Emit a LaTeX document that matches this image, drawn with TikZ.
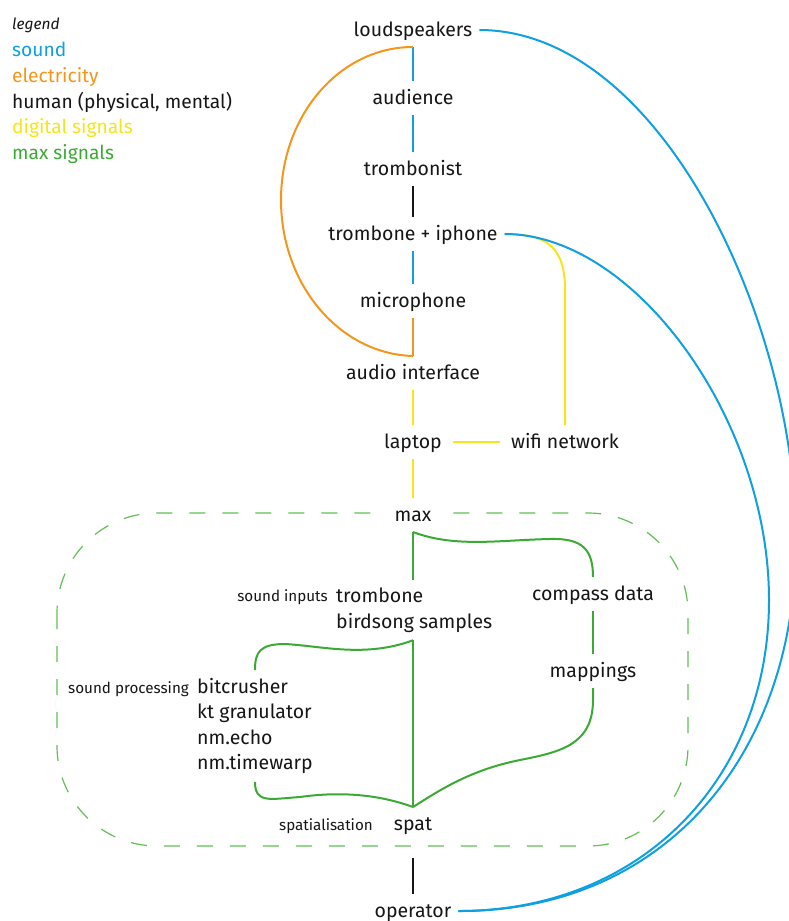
\documentclass[tikz,border=0pt]{standalone}
\usepackage{fontspec}
\setmainfont{Fira Sans}
\usetikzlibrary{calc}
\definecolor{snd}{HTML}{0EA0E0}
\definecolor{elec}{HTML}{F3961C}
\definecolor{dig}{HTML}{F5E51A}
\definecolor{mx}{HTML}{3BAA35}
\definecolor{mxl}{HTML}{62BF55}
\definecolor{ink}{HTML}{161616}
\begin{document}
\begin{tikzpicture}[x=1pt,y=-1pt,
  lbl/.style={anchor=base,font=\fontsize{19.5}{25}\selectfont,text=ink,inner sep=0pt,text height=15pt,text depth=3pt,outer ysep=8pt,outer xsep=7pt},
  blk/.style={anchor=north west,font=\fontsize{19.5}{25.5}\selectfont,text=ink,inner sep=0pt,outer ysep=8pt,align=left},
  sml/.style={anchor=base east,font=\fontsize{15.2}{17}\selectfont,text=ink,inner sep=0pt},
  leg/.style={anchor=base west,font=\fontsize{19.2}{22}\selectfont,inner sep=0pt},
  wire/.style={line width=2pt},
  sw/.style={wire,snd},
  ew/.style={wire,elec},
  dw/.style={wire,dig},
  mw/.style={wire,mx},
  hw/.style={line width=2.5pt,ink},
]
\useasboundingbox (0,0) rectangle (788,921);
\fill[white] (0,0) rectangle (788,921);

% legend
\node[leg,font=\fontsize{15.5}{18}\selectfont\itshape,text=ink] (lg0) at (12,29) {legend};
\node[leg,text=snd] (lg1) at (12,56) {sound};
\node[leg,text=elec] (lg2) at (12,82) {electricity};
\node[leg,text=ink] (lg3) at (12,108) {human (physical, mental)};
\node[leg,text=dig] (lg4) at (12,133) {digital signals};
\node[leg,text=mx] (lg5) at (12,159) {max signals};

% max box
\draw[mxl,line width=1.2pt,dash pattern=on 16pt off 17pt,rounded corners=100pt] (57,513) rectangle (688,846);

% nodes
\node[lbl] (ls) at (413,36) {loudspeakers};
\node[lbl] (aud) at (413,104) {audience};
\node[lbl] (tbt) at (413,175) {trombonist};
\node[lbl] (tip) at (413,240) {trombone + iphone};
\node[lbl] (mic) at (413,307) {microphone};
\node[lbl] (ai) at (413,379) {audio interface};
\node[lbl] (lap) at (413,448) {laptop};
\node[lbl] (wifi) at (565,448) {wifi network};
\node[lbl,fill=white,inner xsep=12pt] (max) at (413,521) {max};
\node[blk] (inp) at (336,580) {trombone\\birdsong samples};
\node[lbl] (cd) at (593,600) {compass data};
\node[lbl] (map) at (593,677) {mappings};
\node[blk] (proc) at (197,670) {bitcrusher\\kt granulator\\nm.echo\\nm.timewarp};
\node[lbl] (spat) at (413,830) {spat};
\node[lbl] (op) at (413,917) {operator};

\node[sml] (sin) at (328,601) {sound inputs};
\node[sml] (spr) at (189,693) {sound processing};
\node[sml] (ssp) at (373,830) {spatialisation};

% connectors: main column
\draw[sw] (ls.south) -- (aud.north);
\draw[sw] (aud.south) -- (tbt.north);
\draw[hw] (tbt.south) -- (tip.north);
\draw[sw] (tip.south) -- (mic.north);
\draw[ew] (mic.south) -- (ai.north);
\draw[ew] (ls.south) .. controls (340,47) and (281,115) .. (281,200)
  .. controls (281,285) and (340,354) .. (ai.north);
\draw[dw] (ai.south) -- (lap.north);
\draw[dw] ([xshift=4pt]lap.east) -- ([xshift=-4pt]wifi.west);
\draw[dw] (lap.south) -- (max.north);
\draw[dw] (tip.east) .. controls (545,234) and (565,245) .. (565,290) -- (wifi.north);

% blue long curves
\draw[sw] (ls.east) .. controls (660,30) and (796,320) .. (796,540)
  .. controls (796,760) and (660,912) .. (op.east);
\draw[sw] (tip.east) .. controls (635,234) and (769,420) .. (769,600)
  .. controls (769,780) and (640,911) .. (op.east);

% max signals
\draw[mw] (max.south) -- (max |- inp.north);
\draw[mw] (max.south) .. controls (455,548) and (500,540) .. (550,539)
  .. controls (583,538) and (593,550) .. (cd.north);
\draw[mw] (cd.south) -- (map.north);
\draw[mw] (map.south) -- (593,700) .. controls (593,745) and (560,752) .. (520,760)
  .. controls (470,770) and (440,790) .. (spat.north);
\draw[mw] (max |- inp.south) -- (spat.north);
\draw[mw] (max |- inp.south) .. controls (365,658) and (322,646) .. (285,644)
  .. controls +(-25,0) and +(0,-18) .. (proc.north);
\draw[mw] (proc.south) .. controls +(0,22) and +(-30,2) .. (300,797)
  .. controls (335,792) and (375,793) .. (spat.north);

\draw[hw,shorten <=17pt] (spat.south) -- (op.north);
\end{tikzpicture}
\end{document}
